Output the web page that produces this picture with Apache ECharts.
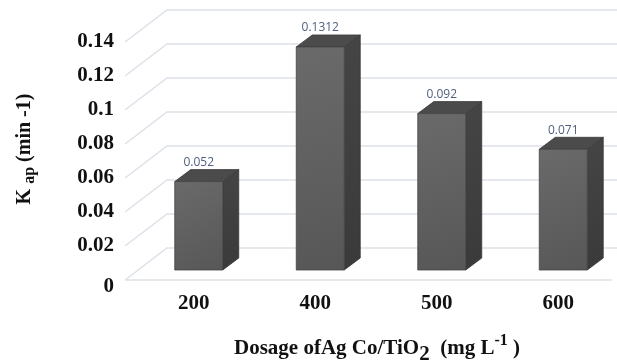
<!DOCTYPE html>
<html>
<head>
<meta charset="utf-8">
<script src="https://cdn.jsdelivr.net/npm/echarts@6/dist/echarts.min.js"></script>
<style>
html,body{margin:0;padding:0;background:#fff;}
#chart{width:617px;height:363px;}
</style>
</head>
<body>
<div id="chart"></div>
<script>
// ---- data ----
var categories = ['200', '400', '500', '600'];
var kapValues = [0.052, 0.1312, 0.092, 0.071];
var valueLabels = ['0.052', '0.1312', '0.092', '0.071'];
var yTicks = [0, 0.02, 0.04, 0.06, 0.08, 0.1, 0.12, 0.14];

var chart = echarts.init(document.getElementById('chart'), null, {renderer: 'canvas'});

// depth geometry (styling)
var WALL_DX = 42, WALL_DY = -32;   // back wall offset from front plane
var BAR_DX = 13, BAR_DY = -10;     // bar front-face plane offset
var SIDE_DX = 16, SIDE_DY = -12;   // bar depth
var BAR_FRAC = 0.395;

var serif = '"Liberation Serif", "DejaVu Serif", serif';

function gridRender(params, api) {
  var cs = params.coordSys;
  var t = api.value(0);
  var y = api.coord([0, t])[1];
  var x0 = cs.x;
  var xr = cs.x + cs.width + 60;
  var children = [{
    type: 'polyline',
    shape: {points: [[x0, y], [x0 + WALL_DX, y + WALL_DY], [xr, y + WALL_DY]]},
    style: {stroke: '#dde1e7', lineWidth: 1.5, fill: null}
  }];
  if (t === 0) {
    children.push({
      type: 'line',
      shape: {x1: x0, y1: y, x2: cs.x + cs.width + 1, y2: y},
      style: {stroke: '#dde1e7', lineWidth: 1.5}
    });
  }
  return {type: 'group', children: children};
}

function barRender(params, api) {
  var i = api.value(0);
  var v = api.value(1);
  var pt = api.coord([i, v]);
  var base = api.coord([i, 0]);
  var band = api.size([1, 0])[0];
  var w = band * BAR_FRAC;
  var cx = pt[0] + BAR_DX;
  var top = pt[1] + BAR_DY;
  var bot = base[1] + BAR_DY;
  var l = cx - w / 2, r = cx + w / 2;
  return {
    type: 'group',
    children: [
      {
        type: 'polygon',
        shape: {points: [[r, top], [r + SIDE_DX, top + SIDE_DY], [r + SIDE_DX, bot + SIDE_DY], [r, bot]]},
        style: {
          fill: new echarts.graphic.LinearGradient(0, 0, 0, 1, [
            {offset: 0, color: '#454545'}, {offset: 1, color: '#3a3a3a'}]),
          stroke: '#353535', lineWidth: 0.8
        }
      },
      {
        type: 'polygon',
        shape: {points: [[l, top], [l + SIDE_DX, top + SIDE_DY], [r + SIDE_DX, top + SIDE_DY], [r, top]]},
        style: {fill: '#4b4b4b', stroke: '#3a3a3a', lineWidth: 0.8}
      },
      {
        type: 'rect',
        shape: {x: l, y: top, width: w, height: bot - top},
        style: {
          fill: new echarts.graphic.LinearGradient(0, 0, 1, 1, [
            {offset: 0, color: '#6a6a6a'}, {offset: 1, color: '#575757'}]),
          stroke: '#444444', lineWidth: 0.8
        }
      },
      {
        type: 'text',
        style: {
          x: cx, y: top + SIDE_DY - 1,
          text: valueLabels[params.dataIndex],
          fill: '#4e5f7c',
          font: '12px "Open Sans", sans-serif',
          align: 'center', verticalAlign: 'bottom'
        }
      }
    ]
  };
}

var tickStyle = {fontFamily: serif, fontWeight: 'bold', fontSize: 21, color: '#111'};

var option = {
  animation: false,
  backgroundColor: '#ffffff',
  grid: {left: 125, right: 6, top: 42, bottom: 83, containLabel: false, outerBoundsMode: 'none'},
  xAxis: {
    type: 'category',
    data: categories,
    axisLine: {show: false},
    axisTick: {show: false},
    axisLabel: {
      fontFamily: serif, fontWeight: 'bold', fontSize: 21, color: '#111',
      margin: 13, padding: [0, 0, 0, 16]
    },
    name: '{b|Dosage of}{b|Ag Co/TiO}{sub|2}{b|  (mg L}{sup|-1}{b| )}',
    nameLocation: 'middle',
    nameGap: 53,
    nameTextStyle: {
      padding: [0, 0, 0, 18],
      rich: {
        b: {fontFamily: serif, fontWeight: 'bold', fontSize: 21, color: '#111', verticalAlign: 'bottom', lineHeight: 26},
        sub: {fontFamily: serif, fontWeight: 'bold', fontSize: 21, color: '#111', verticalAlign: 'bottom', padding: [0, 0, -6, 0], lineHeight: 26},
        sup: {fontFamily: serif, fontWeight: 'bold', fontSize: 16, color: '#111', verticalAlign: 'top', padding: [0, 0, 8, 0], lineHeight: 26}
      }
    }
  },
  yAxis: {
    type: 'value',
    min: 0, max: 0.14, interval: 0.02,
    axisLine: {show: false},
    axisTick: {show: false},
    splitLine: {show: false},
    axisLabel: {
      fontFamily: serif, fontWeight: 'bold', fontSize: 21, color: '#111', margin: 11,
      formatter: function (v) { return v === 0 ? '{z|0}' : '{t|' + v + '}'; },
      rich: {
        t: tickStyle,
        z: {fontFamily: serif, fontWeight: 'bold', fontSize: 21, color: '#111', padding: [14, 0, 0, 0]}
      }
    },
    name: '{b|K }{s|ap}{b| (min -1)}',
    nameLocation: 'middle',
    nameRotate: 90,
    nameGap: 90,
    nameTextStyle: {
      padding: [0, 0, 0, 24],
      rich: {
        b: {fontFamily: serif, fontWeight: 'bold', fontSize: 20, color: '#111', verticalAlign: 'bottom', lineHeight: 22},
        s: {fontFamily: serif, fontWeight: 'bold', fontSize: 16, color: '#111', verticalAlign: 'bottom', padding: [0, 0, -3, 0], lineHeight: 22}
      }
    }
  },
  series: [
    {
      type: 'custom',
      z: 1,
      silent: true,
      renderItem: gridRender,
      data: yTicks.map(function (t) { return [t]; }),
      encode: {y: 0}
    },
    {
      type: 'custom',
      z: 2,
      renderItem: barRender,
      data: kapValues.map(function (v, i) { return [i, v]; }),
      encode: {x: 0, y: 1}
    }
  ]
};
chart.setOption(option);
</script>
</body>
</html>
